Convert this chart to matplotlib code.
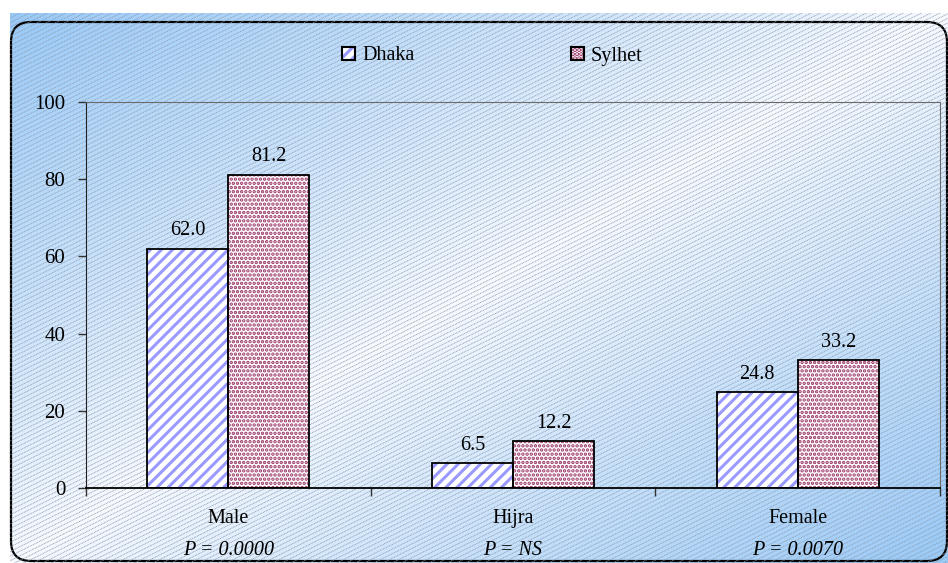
import numpy as np
import matplotlib
matplotlib.use('Agg')
import matplotlib.pyplot as plt
from matplotlib.patches import FancyBboxPatch, Patch
from matplotlib.collections import LineCollection

# datos
grupos = ['Male', 'Hijra', 'Female']
p_valores = ['P = 0.0000', 'P = NS', 'P = 0.0070']
dhaka = [62.0, 6.5, 24.8]
sylhet = [81.2, 12.2, 33.2]
series = ['Dhaka', 'Sylhet']

plt.rcParams['font.family'] = ['Liberation Serif', 'DejaVu Serif']
plt.rcParams['hatch.linewidth'] = 2.2

W, H = 948, 563
fig = plt.figure(figsize=(W / 100, H / 100), dpi=100)

# fondo: degradado azul-blanco-azul con rayas grises
bx0, by0 = 10, 13
bg = fig.add_axes([bx0 / W, 0, (W - bx0) / W, (H - by0) / H], zorder=0)
bg.set_xlim(bx0, W)
bg.set_ylim(H, by0)
bg.axis('off')
gx, gy = np.meshgrid(np.linspace(0, 1, 300), np.linspace(0, 1, 200))
t = np.abs(gx + gy - 1.0)
azul = np.array([0.60, 0.79, 0.97])
blanco = np.array([0.97, 0.98, 1.0])
img = blanco + (azul - blanco) * t[..., None] ** 0.9
bg.imshow(img, extent=(bx0, W, H, by0), aspect='auto', interpolation='bilinear')
segs = []
for c in np.arange(0, H + W * 0.5 + 10, 4.6):
    segs.append([(0, c), (W, c - 0.5 * W)])
lc = LineCollection(segs, colors='#8f9aaa', linewidths=0.6, linestyles=(0, (1.2, 0.8)))
bg.add_collection(lc)
borde = FancyBboxPatch((11, 22), 936, 539, boxstyle='round,pad=0,rounding_size=20',
                       fill=False, edgecolor='black', linewidth=1.6, clip_on=False)
bg.add_patch(borde)

# grafico
ax = fig.add_axes([86 / W, 1 - 488 / H, (940 - 86) / W, (488 - 102) / H], zorder=1)
ax.patch.set_alpha(0)
x = np.arange(len(grupos))
w = 0.285


def puntos(patches, lw):
    for p in patches:
        try:
            p.set_hatch_linewidth(lw)
        except AttributeError:
            pass


b1 = ax.bar(x - w / 2, dhaka, w, color='white', edgecolor='#9999ff', hatch='///', linewidth=0)
b2 = ax.bar(x + w / 2, sylhet, w, color='white', edgecolor='#993366', hatch='....', linewidth=0)
puntos(b2, 1.7)
o1 = ax.bar(x - w / 2, dhaka, w, fill=False, edgecolor='black', linewidth=1.3)
o2 = ax.bar(x + w / 2, sylhet, w, fill=False, edgecolor='black', linewidth=1.3)

ax.bar_label(o1, fmt='%.1f', padding=6, fontsize=14.5)
ax.bar_label(o2, fmt='%.1f', padding=6, fontsize=14.5)

ax.set_xlim(-0.5, 2.5)
ax.set_ylim(0, 100)
ax.set_yticks([0, 20, 40, 60, 80, 100])
ax.tick_params(axis='y', labelsize=15, length=6, width=1, color='#333333', pad=9)
ax.set_xticks(x)
ax.set_xticklabels([])
ax.tick_params(axis='x', which='major', length=0)
ax.set_xticks([-0.5, 0.5, 1.5, 2.5], minor=True)
ax.tick_params(axis='x', which='minor', length=6, width=1, color='#333333')

for i, g in enumerate(grupos):
    ax.text(i, -7.8, g, ha='center', va='center', fontsize=14.5)
    ax.text(i, -16.3, p_valores[i], ha='center', va='center', fontsize=14.5, style='italic')

ax.spines['top'].set_color('#6b6b6b')
ax.spines['right'].set_color('#6b6b6b')
ax.spines['left'].set_color('#222222')
ax.spines['bottom'].set_color('black')
ax.spines['bottom'].set_linewidth(1.3)

l1 = Patch(facecolor='white', edgecolor='#9999ff', hatch='///', linewidth=0)
l2 = Patch(facecolor='white', edgecolor='#993366', hatch='....', linewidth=0)
puntos([l2], 1.7)
h1 = (l1, Patch(fill=False, edgecolor='black', linewidth=1.5))
h2 = (l2, Patch(fill=False, edgecolor='black', linewidth=1.5))
fig.legend([h1, h2], series, loc='center', bbox_to_anchor=(0.5195, 1 - 56 / H), ncol=2,
           frameon=False, fontsize=14.5, handlelength=0.65, handleheight=0.65,
           handletextpad=0.35, columnspacing=7.75)

fig.savefig('out.png', dpi=100)
